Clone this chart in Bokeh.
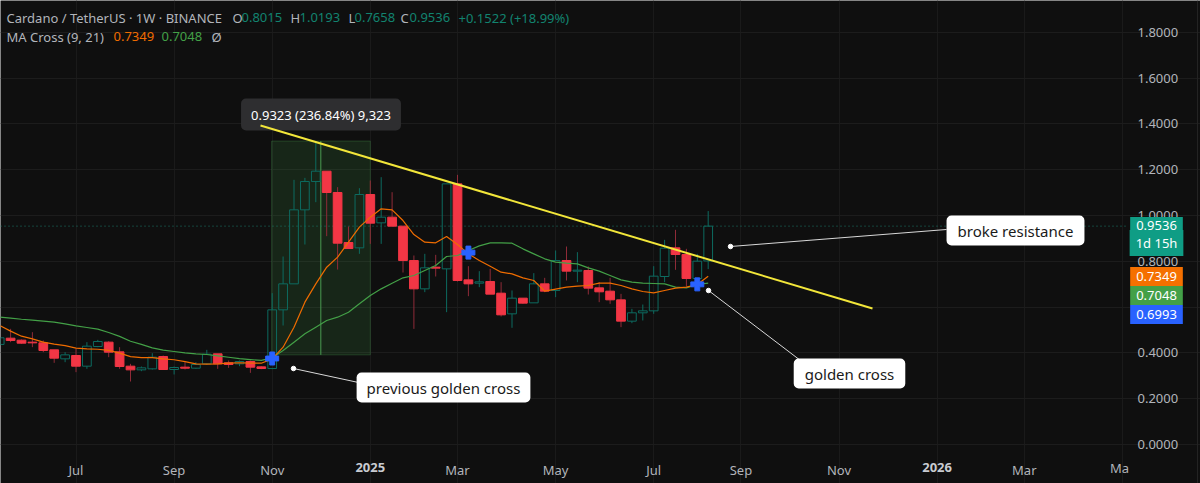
from bokeh.embed import file_html
from bokeh.resources import INLINE
from bokeh.plotting import figure
from bokeh.models import ColumnDataSource, Label, Range1d, FixedTicker, BoxAnnotation

# ---- data -----------------------------------------------------------------
week = list(range(-25, 41))   # weekly bars, 0 = first week of Nov 2024
opens = [.437,.4643,.4556,.4469,.4439,.4134,.3741,.3886,.3420,.4279,.4469,.4046,.3420,.3260,.3304,.3842,.3275,.3377,.3333,.3522,.3959,.3566,.3522,.3624,.3391,
         .3318,.5880,.7015,1.0247,1.1484,1.1935,1.1004,.8820,.8588,1.0917,.9679,.9927,.9534,.8034,.6797,.7743,.7670,1.1382,.7190,.7045,.7118,.6608,.5706,.6390,.6186,.7016,.6725,.8035,.7569,.7598,.6841,.6696,.6317,.5386,.5750,.5837,.7336,.8588,.8297,.7249,.8015]
closes = [.466,.4541,.4425,.4439,.4105,.3770,.3915,.3420,.4294,.4498,.4032,.3406,.3260,.3348,.3813,.3275,.3362,.3333,.3493,.3944,.3522,.3493,.3624,.3377,.3319,
          .5880,.7015,1.0247,1.1484,1.1935,1.1004,.8791,.8558,1.0917,.9665,.9927,.9534,.8034,.6797,.7714,.7700,1.1382,.7161,.7015,.7103,.6565,.5662,.6390,.6172,.7016,.6696,.8035,.7569,.7613,.6827,.6667,.6317,.5386,.5750,.5837,.7351,.8573,.8297,.7249,.8006,.9536]
highs = [.466,.5051,.4585,.4905,.4541,.4134,.4032,.4177,.4469,.4570,.4512,.4250,.3522,.3406,.3988,.3886,.3406,.3595,.3595,.4134,.3959,.3668,.3668,.3668,.3420,
         .6608,.8209,1.1557,1.1644,1.3246,1.1935,1.1237,.9519,1.1193,1.1528,1.1673,1.1018,.9534,.8253,.8326,.8282,1.1382,1.1775,.7787,.7569,.7671,.7089,.6725,.6390,.7482,.7278,.8472,.8646,.8399,.7773,.7089,.7278,.6579,.5924,.6113,.7787,.8937,.9374,.8544,.8326,1.0193]
lows = [.430,.4469,.4396,.4250,.4032,.3566,.3595,.3158,.3304,.4250,.3813,.3304,.2751,.3202,.3275,.3260,.3057,.3275,.3304,.3493,.3304,.3348,.3420,.3129,.3290,
        .3289,.5196,.7015,.8733,1.0582,.9097,.7641,.8558,.8326,.8762,.8762,.9534,.7510,.5050,.6652,.7336,.5778,.7118,.6477,.6870,.6565,.5590,.5095,.6143,.6186,.6652,.6434,.7162,.7089,.6550,.6215,.6143,.5124,.5298,.5415,.5706,.7089,.7627,.6899,.7089,.7658]
ma9 = [.520,.495,.473,.461,.447,.438,.432,.421,.418,.416,.411,.399,.384,.379,.379,.374,.370,.362,.352,.351,.352,.355,.357,.355,.355,
       .3740,.4250,.5123,.6215,.7015,.7743,.8180,.8835,.9490,.9927,1.0291,1.0247,.9781,.9170,.8835,.8806,.9083,.8733,.8326,.8035,.7787,.7525,.7453,.7278,.7162,.6696,.6783,.6870,.6914,.6943,.7045,.7045,.6943,.6797,.6681,.6623,.6725,.6827,.6870,.6987,.7349]
ma21 = [.556,.552,.547,.543,.539,.534,.527,.518,.511,.504,.489,.472,.451,.437,.422,.412,.406,.400,.396,.393,.387,.381,.375,.371,.367,
        .3784,.4104,.4468,.4832,.5123,.5415,.5560,.5778,.6142,.6506,.6797,.7045,.7278,.7379,.7598,.7816,.8209,.8253,.8471,.8675,.8806,.8806,.8792,.8544,.8326,.8108,.7962,.7919,.7889,.7715,.7569,.7380,.7191,.7089,.7045,.7031,.7016,.6870,.6841,.6987,.7048]
cross_weeks = [0, 18, 39]
cross_prices = [.3755, .838, .6993]
price_ticks = [0.0, 0.2, 0.4, 0.6, 0.8, 1.0, 1.2, 1.4, 1.6, 1.8]
price_labels = ["0.0000", "0.2000", "0.4000", "", "0.8000", "1.0000", "1.2000", "1.4000", "1.6000", "1.8000"]
month_weeks = [-18, -9, 0, 9, 17, 26, 35, 43, 52, 61, 69, 78]
month_labels = ["Jul", "Sep", "Nov", "", "Mar", "May", "Jul", "Sep", "Nov", "", "Mar", ""]
year_weeks = [9, 61]
year_labels = ["2025", "2026"]
last_price = 0.9536

# ---- picture pixel -> data helpers for annotations ------------------------
def X(px):
    return (px - 271.7) / 10.9

def Y(py):
    return (444 - py) / 229

BG = "#0f0f0f"
FONT = "Noto Sans"
UP = "#0d6b60"
DOWN = "#f23645"
DOWN_WICK = "#8f2b38"
AX_RIGHT = 1126
AX_BOTTOM = 457

p = figure(width=1200, height=483, output_backend="svg", toolbar_location=None,
           x_range=Range1d(X(0), X(1200)), y_range=Range1d(Y(483), Y(0)),
           y_axis_location="right",
           background_fill_color=BG, border_fill_color=BG, outline_line_color=None,
           min_border_left=0, min_border_top=0, min_border_right=0, min_border_bottom=0)

p.xaxis.ticker = FixedTicker(ticks=month_weeks)
p.xaxis.major_label_overrides = dict(zip(month_weeks, month_labels))
p.yaxis.ticker = FixedTicker(ticks=price_ticks)
p.yaxis.major_label_overrides = dict(zip(price_ticks, price_labels))
p.xaxis.fixed_location = Y(AX_BOTTOM)
p.yaxis.fixed_location = X(AX_RIGHT)
for ax in (p.xaxis[0], p.yaxis[0]):
    ax.axis_line_color = None
    ax.major_tick_line_color = None
    ax.minor_tick_line_color = None
    ax.major_tick_out = 0
    ax.major_tick_in = 0
    ax.major_label_text_color = "#b2b5bb"
    ax.major_label_text_font = FONT
    ax.major_label_text_font_size = "13px"
p.xaxis[0].major_label_standoff = 3
p.yaxis[0].major_label_standoff = 11
p.xgrid.grid_line_color = "#1a1a1a"
p.ygrid.grid_line_color = "#1c1c1c"
p.xgrid.ticker = FixedTicker(ticks=month_weeks)
p.ygrid.ticker = FixedTicker(ticks=price_ticks)
p.xgrid.bounds = (Y(AX_BOTTOM), Y(0))
p.ygrid.bounds = (X(0), X(AX_RIGHT))

# measure tool
p.add_layout(BoxAnnotation(left=-0.05, right=9.0, bottom=0.3915, top=1.325,
                           fill_color="#4caf50", fill_alpha=0.15,
                           line_color="#4a9a50", line_width=1, level="underlay"))
p.segment([4.46], [0.3915], [4.46], [1.325], line_color="#4a9a50", line_width=1)

# last price line
p.line([X(0), X(AX_RIGHT)], [last_price, last_price], line_color="#1a7a6a", line_dash=[1, 3], line_width=1)

# separator at the far right of the price scale
p.line([X(1197), X(1197)], [Y(0), Y(483)], line_color="#232323", line_width=1)

# candles
body_top = [max(o, c) for o, c in zip(opens, closes)]
body_bot = [min(o, c) for o, c in zip(opens, closes)]
is_up = [c >= o for o, c in zip(opens, closes)]
src = ColumnDataSource(dict(
    x=week, h=highs, l=lows, t=body_top, b=body_bot,
    wick=[UP if u else DOWN_WICK for u in is_up],
    fill=[BG if u else DOWN for u in is_up],
    edge=[UP if u else DOWN for u in is_up],
    alpha=[0.0 if u else 1.0 for u in is_up],
))
p.segment("x", "h", "x", "t", source=src, line_color="wick", line_width=1)
p.segment("x", "b", "x", "l", source=src, line_color="wick", line_width=1)
p.vbar("x", 0.8, "t", "b", source=src, fill_color="fill", fill_alpha="alpha",
       line_color="edge", line_width=1)

# moving averages
p.line(week, ma21, line_color="#43a047", line_width=1.2)
p.line(week, ma9, line_color="#ef6c00", line_width=1.2)

def text(px, py, s, color, size=13, align="left", weight="normal", **kw):
    p.add_layout(Label(x=X(px), y=Y(py), text=s, text_color=color, text_font=FONT,
                       text_font_size=f"{size}px", text_align=align,
                       text_baseline="middle", text_font_style=weight, **kw))

# tooltip of the measure tool, under the trend line
text(320.5, 114, "0.9323 (236.84%) 9,323", "#ffffff", 13, "center",
     background_fill_color="#2e2e30", border_radius=5, padding=(10, 7), level="underlay")

# trend line
p.line([X(260), X(872)], [Y(125), Y(308)], line_color="#f2e63a", line_width=2)

# crosses
p.scatter(cross_weeks, cross_prices, marker="plus", size=13, color="#2962ff")

# callout connectors
for (x0, y0, x1, y1) in [(730, 246, 946, 229), (293, 368, 358, 382), (708, 290, 800, 360)]:
    p.line([X(x0), X(x1)], [Y(y0), Y(y1)], line_color="#d8d8d8", line_width=1)
    p.scatter([X(x0)], [Y(y0)], size=4.5, color="#ffffff")

# year labels and the cut-off month on the time axis
for w, s in zip(year_weeks, year_labels):
    text(271.7 + 10.9 * w, 467, s, "#c8cbd1", 13, "center", "bold")
text(1119, 467, "Ma", "#b2b5bb", 13, "center")

# header legend
GRAY = "#b2b5bb"
TEAL = "#12836f"
text(6, 17, "Cardano / TetherUS · 1W · BINANCE", GRAY)
for px, s, c in [(232, "O", GRAY), (241, "0.8015", TEAL), (290, "H", GRAY), (299, "1.0193", TEAL),
                 (348, "L", GRAY), (354, "0.7658", TEAL), (400, "C", GRAY), (409, "0.9536", TEAL),
                 (458, "+0.1522 (+18.99%)", TEAL)]:
    text(px, 17, s, c)
text(6, 36, "MA Cross (9, 21)", GRAY)
text(113, 36, "0.7349", "#ef6c00")
text(161, 36, "0.7048", "#43a047")
text(211, 36, "Ø", GRAY)

# white callouts
text(1015, 230, "broke resistance", "#1a1a1a", 15, "center",
     background_fill_color="#ffffff", border_radius=5, padding=(11, 5))
text(443, 387, "previous golden cross", "#1a1a1a", 15, "center",
     background_fill_color="#ffffff", border_radius=5, padding=(10, 5))
text(849, 373, "golden cross", "#1a1a1a", 15, "center",
     background_fill_color="#ffffff", border_radius=5, padding=(11, 5))

# price tags
text(1156, 225, "0.9536", "#ffffff", 13, "center", background_fill_color="#0f9d85", padding=(6, 4))
text(1156, 242.5, "1d 15h", "#ffffff", 13, "center", background_fill_color="#0f9d85", padding=(6, 4))
text(1156, 276, "0.7349", "#ffffff", 13, "center", background_fill_color="#f57000", padding=(6, 5))
text(1156, 295, "0.7048", "#ffffff", 13, "center", background_fill_color="#43a047", padding=(6, 5))
text(1156, 314, "0.6993", "#ffffff", 13, "center", background_fill_color="#2962ff", padding=(6, 5))

open("out.html", "w").write(file_html(p, INLINE))
